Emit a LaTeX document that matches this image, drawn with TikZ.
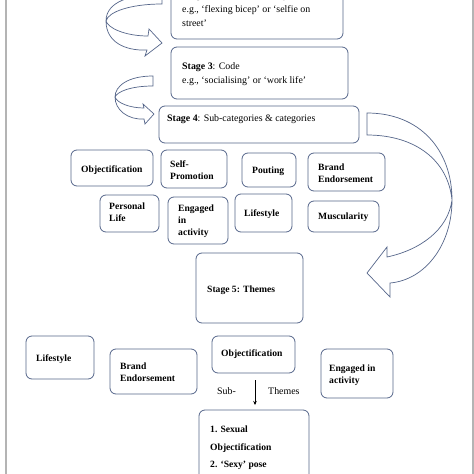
\documentclass[tikz,border=0pt]{standalone}
\usepackage{fontspec}
\setmainfont{Liberation Serif}
\usetikzlibrary{arrows.meta}
\definecolor{edge}{HTML}{56668A}
\definecolor{frame}{HTML}{B4B4B4}
\begin{document}
\begin{tikzpicture}[x=1pt,y=-1pt,
  box/.style={draw=edge,line width=0.8pt,rounded corners=6pt,fill=white,inner sep=0pt},
  barrow/.style={draw=edge,line width=0.7pt,fill=white},
  txt/.style={anchor=west,inner sep=0pt,align=left,font=\fontsize{9.9}{14}\selectfont},
  btxt/.style={anchor=west,inner sep=0pt,align=left,font=\fontsize{9.6}{12}\selectfont\bfseries},
  ftxt/.style={anchor=west,inner sep=0pt,align=left,font=\fontsize{9.6}{17.5}\selectfont\bfseries}]
\useasboundingbox (0,0) rectangle (474,474);
\fill[white] (0,0) rectangle (474,474);
\draw[frame,line width=1.5pt] (6,-2) -- (6,476);
\draw[frame,line width=1.5pt] (473,-2) -- (473,476);
% boxes
\node[box,minimum width=172pt,minimum height=60pt] (s2) at (257,9) {};
\node[box,minimum width=177pt,minimum height=52pt] (s3) at (259.5,73) {};
\node[box,minimum width=200pt,minimum height=37pt] (s4) at (259,124.5) {};
\node[box,minimum width=82pt,minimum height=36pt] (r1a) at (112,168) {};
\node[box,minimum width=66pt,minimum height=38pt] (r1b) at (194,169) {};
\node[box,minimum width=54pt,minimum height=34pt] (r1c) at (269,170) {};
\node[box,minimum width=77pt,minimum height=38pt] (r1d) at (346.5,172) {};
\node[box,minimum width=59pt,minimum height=37pt] (r2a) at (129.5,213.5) {};
\node[box,minimum width=60pt,minimum height=47pt] (r2b) at (198,220.5) {};
\node[box,minimum width=57pt,minimum height=38pt] (r2c) at (263.5,213) {};
\node[box,minimum width=71pt,minimum height=31pt] (r2d) at (343.5,216.5) {};
\node[box,minimum width=107pt,minimum height=70pt] (s5) at (249.5,288) {};
\node[box,minimum width=68pt,minimum height=43pt] (t1) at (60,357.5) {};
\node[box,minimum width=87pt,minimum height=45pt] (t2) at (153.5,371.5) {};
\node[box,minimum width=83pt,minimum height=37pt] (t3) at (253.5,354.5) {};
\node[box,minimum width=72pt,minimum height=49pt] (t4) at (357,373.5) {};
\node[box,minimum width=110pt,minimum height=90pt] (fin) at (254,455) {};
% texts
\node[txt] (s2t) at (182,9) {\textbf{Stage 2}: Construct coding list\\e.g., `flexing bicep' or `selfie on\\street'};
\node[txt] (s3t) at (182,74) {\textbf{Stage 3}: Code\\e.g., `socialising' or `work life'};
\node[txt] (s4t) at (167,119) {\textbf{Stage 4}: Sub-categories \& categories};
\node[btxt] (r1at) at (81,170) {Objectification};
\node[btxt] (r1bt) at (170,170) {Self-\\Promotion};
\node[btxt] (r1ct) at (252,171) {Pouting};
\node[btxt] (r1dt) at (318,173) {Brand\\Endorsement};
\node[btxt] (r2at) at (109,212.5) {Personal\\Life};
\node[btxt] (r2bt) at (178,221) {Engaged\\in\\activity};
\node[btxt] (r2ct) at (244,214) {Lifestyle};
\node[btxt] (r2dt) at (318,217) {Muscularity};
\node[btxt] (s5t) at (207,290) {Stage 5: Themes};
\node[btxt] (t1t) at (36,359) {Lifestyle};
\node[btxt] (t2t) at (120,372) {Brand\\Endorsement};
\node[btxt] (t3t) at (221,354) {Objectification};
\node[btxt] (t4t) at (329,375) {Engaged in\\activity};
\node[txt] (sub) at (217,391) {Sub-};
\node[txt] (thm) at (268,391) {Themes};
\node[ftxt,anchor=north west] (fint) at (210,426) {1. Sexual\\Objectification\\2. `Sexy' pose};
% small arrow
\coordinate (ar1) at (255,380);
\coordinate (ar2) at (255,405);
\draw[line width=0.5pt,-{Stealth[length=4pt,width=3.5pt]}] (ar1) -- (ar2);
% block arrow 1
\draw[barrow] (162,-6) .. controls (130,-6) and (106,2) .. (106,21)
  .. controls (106,42) and (125,51) .. (147,50) -- (145,56) -- (162,43) -- (149,29) -- (148,36)
  .. controls (125,36) and (108,28) .. (106,21)
  .. controls (108,12) and (130,4) .. (162,4) -- cycle;
% block arrow 2
\draw[barrow] (153,76) .. controls (128,76) and (115,86) .. (115,97)
  .. controls (115,110) and (128,120) .. (144,119) -- (145,124) -- (154,114) -- (143,104) -- (144,108)
  .. controls (130,108) and (117,103) .. (115,97)
  .. controls (117,92) and (130,86) .. (153,86) -- cycle;
% block arrow 3
\draw[barrow] (367,113) .. controls (420,113) and (452,150) .. (452,200)
  .. controls (452,245) and (425,280) .. (390,283) -- (390,297) -- (367,273) -- (387,247) -- (387,257)
  .. controls (420,250) and (448,230) .. (452,200)
  .. controls (448,160) and (415,135) .. (367,135) -- cycle;
\end{tikzpicture}
\end{document}
